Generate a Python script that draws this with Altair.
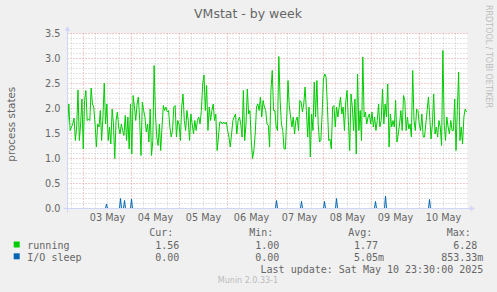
import altair as alt
import pandas as pd

# ---------------- data ----------------
running_a = [1.66, 2.09, 1.56, 1.63, 1.69, 1.81, 1.36, 1.63, 2.37, 1.36, 1.69, 2.19, 1.19, 2.16, 2.36, 1.76,
             1.79, 1.76, 2.41, 2.09, 2.03, 1.69, 1.23, 1.69, 1.63, 1.96, 1.36, 1.83, 2.51, 1.69, 2.09, 1.36,
             1.63, 1.29, 1.99, 1.69, 1.00, 1.76, 1.93, 1.63, 1.49, 1.69, 1.56, 1.46, 1.86, 1.36, 1.83, 1.19,
             2.09, 1.09, 2.26, 2.03, 1.76, 2.09, 2.23, 1.76, 1.06, 2.13, 1.96, 1.83, 1.53, 1.69, 1.33, 1.99,
             1.06, 1.36, 2.86, 1.89, 1.43, 1.26, 1.69, 1.16, 1.63, 2.06, 1.96, 2.03, 1.93]
running_b = [1.96, 1.63, 1.43, 1.56, 2.03, 2.06, 1.43, 1.76, 1.69, 1.36, 2.03, 2.29, 1.76, 1.56, 1.96, 1.76,
             1.36, 1.89, 1.69, 1.49, 1.76, 1.56, 1.76, 1.83, 1.69, 1.96, 2.49, 2.67, 1.96, 2.46, 1.56, 2.03,
             1.76, 1.96, 2.09, 1.76, 1.89, 1.16, 1.43, 1.73, 1.73, 1.69, 1.73, 1.69, 1.73, 1.56, 1.43, 1.23,
             1.49, 1.76, 1.83, 1.89, 1.49, 1.76, 1.83, 1.69, 1.43, 2.36, 1.36, 1.69, 2.39, 1.89, 1.96, 1.36,
             1.00, 1.16, 1.49, 2.03, 2.09, 1.96, 2.23, 1.83, 2.16, 2.03, 1.96, 1.69]
running_c = [1.66, 1.23, 2.36, 2.76, 1.96, 1.96, 1.63, 1.56, 3.04, 2.16, 1.69, 1.56, 1.19, 1.19, 1.79, 2.56,
             2.03, 1.83, 1.63, 1.83, 1.49, 1.76, 1.83, 1.56, 2.16, 2.13, 1.93, 2.09, 2.43, 1.96, 1.43, 2.03,
             1.03, 1.89, 1.56, 2.53, 1.83, 2.56, 1.69, 1.33, 1.36, 1.89, 2.59, 2.69, 2.63, 2.06, 1.36, 1.39,
             1.19, 2.03, 2.06, 1.63, 2.03, 1.83, 2.03, 2.23, 1.89, 2.03, 1.56, 2.13, 2.36, 1.76, 1.16, 2.29,
             2.03, 1.56, 2.19, 1.09, 2.69, 1.56, 1.96, 1.36, 3.03, 1.83, 1.93, 1.69]
running_d = [1.83, 1.89, 1.69, 1.93, 1.63, 1.83, 1.56, 1.76, 2.09, 1.63, 1.76, 2.39, 1.69, 2.09, 1.83, 2.49,
             1.23, 1.89, 1.63, 1.76, 1.63, 2.16, 1.33, 1.49, 1.69, 1.96, 1.56, 2.26, 2.16, 1.56, 1.83, 1.59,
             1.69, 1.43, 2.76, 1.76, 1.56, 1.99, 1.96, 1.69, 1.56, 1.89, 1.43, 1.43, 1.69, 1.96, 2.23, 1.83,
             1.39, 1.69, 2.29, 1.49, 1.63, 1.43, 1.76, 1.63, 1.26, 3.16, 1.69, 1.36, 1.83, 1.63, 1.49, 1.76,
             1.56, 1.56, 2.19, 1.16, 1.96, 2.73, 1.36, 1.63, 1.29, 1.83, 1.99, 1.93]
running = running_a + running_b + running_c + running_d

# I/O sleep: spikes (hours since 2025-05-02 00:00) and their heights
io_hours = [35.5, 42.5, 44.5, 48.0, 120.5, 133.0, 144.5, 150.5, 170.0, 175.0, 197.0]
io_peaks = [0.09, 0.20, 0.16, 0.19, 0.16, 0.14, 0.14, 0.20, 0.14, 0.25, 0.18]

start_hour = 16.0      # 2025-05-02 16:00
end_hour = 215.5       # 2025-05-10 23:30
axis_end = 216.0

day_labels = ["03 May", "04 May", "05 May", "06 May", "07 May", "08 May", "09 May", "10 May"]
day_label_hours = [36, 60, 84, 108, 132, 156, 180, 204]
y_ticks = [0.0, 0.5, 1.0, 1.5, 2.0, 2.5, 3.0, 3.5]

legend_names = ["running", "I/O sleep"]
legend_colors = ["#00cc00", "#0066b3"]
headers = ["Cur:", "Min:", "Avg:", "Max:"]
col_values = [["1.56", "0.00"], ["1.00", "0.00"], ["1.77", "5.05"], ["6.28", "853.33"]]
col_suffix = [["", ""], ["", ""], ["", "m"], ["", "m"]]
title_text = "VMstat - by week"
y_title = "process states"
last_update = "Last update: Sat May 10 23:30:00 2025"
footer = "Munin 2.0.33-1"
watermark = "RRDTOOL / TOBI OETIKER"

# ---------------- tables ----------------
n = len(running)
green = pd.DataFrame({
    "h": [start_hour + i * (end_hour - start_hour) / (n - 1) for i in range(n)],
    "v": running,
})

bh, bv = [start_hour], [0.0]
for h, p in zip(io_hours, io_peaks):
    bh += [h - 0.5, h, h + 0.5]
    bv += [0.0, p, 0.0]
bh.append(end_hour)
bv.append(0.0)
blue = pd.DataFrame({"h": bh, "v": bv})

minor_y = pd.DataFrame({"v": [round(i * 0.1, 1) for i in range(1, 35) if i % 5]})
major_y = pd.DataFrame({"v": [round(i * 0.5, 1) for i in range(1, 8)]})
minor_x = pd.DataFrame({"h": [h for h in range(18, 217, 6) if h % 24]})
major_x = pd.DataFrame({"h": list(range(24, 216, 24))})

XS = alt.Scale(domain=[start_hour, axis_end], nice=False, zero=False)
YS = alt.Scale(domain=[0, 3.5], nice=False, zero=False)

FONT = "DejaVu Sans"
MONO = "DejaVu Sans Mono"
TXT = "#666666"
AXC = "#CFD6F8"

label_expr = "[" + ",".join("'%s'" % s for s in day_labels) + "][(datum.value - 36) / 24]"

XAX = alt.Axis(
    values=day_label_hours, labelExpr=label_expr, grid=False, ticks=False, domain=False,
    labelFont=FONT, labelFontSize=9.7, labelColor=TXT, labelPadding=4, title=None,
    labelOverlap=False, labelFlush=False, translate=0)
YAX = alt.Axis(
    values=y_ticks, format=".1f", grid=False, ticks=False, domain=False,
    labelFont=FONT, labelFontSize=9.7, labelColor=TXT, labelPadding=7,
    labelOverlap=False, labelFlush=False, translate=0,
    title=y_title, titleX=-55.8, titleY=90.7, titleAngle=270, titleAlign="center",
    titleBaseline="middle", titleFont=FONT, titleFontSize=10.4, titleFontWeight="normal",
    titleColor=TXT)


def X(field):
    return alt.X(field, scale=XS, axis=XAX)


def Y(field):
    return alt.Y(field, scale=YS, axis=YAX)


grid_minor_y = alt.Chart(minor_y).mark_rule(color="#C8C8C8", strokeWidth=1, strokeDash=[1, 2]).encode(
    y=Y("v:Q"))
grid_minor_x = alt.Chart(minor_x).mark_rule(color="#C8C8C8", strokeWidth=1, strokeDash=[1, 2]).encode(
    x=X("h:Q"))
grid_major_y = alt.Chart(major_y).mark_rule(color="#E69A9A", strokeWidth=1, strokeDash=[1, 2]).encode(
    y=Y("v:Q"))
grid_major_x = alt.Chart(major_x).mark_rule(color="#E69A9A", strokeWidth=1, strokeDash=[1, 2]).encode(
    x=X("h:Q"))

green_line = alt.Chart(green).mark_line(color="#00cc00", strokeWidth=1).encode(x=X("h:Q"), y=Y("v:Q"))
blue_line = alt.Chart(blue).mark_line(color="#0066b3", strokeWidth=1).encode(x=X("h:Q"), y=Y("v:Q"))

axis_pts = pd.DataFrame({
    "x0": [start_hour - 2], "x1": [axis_end + 2], "xs": [start_hour], "xe": [axis_end],
    "y0": [-0.08], "y1": [3.56], "yz": [0.0], "yt": [3.5],
})
x_axis_line = alt.Chart(axis_pts).mark_rule(color=AXC, strokeWidth=1).encode(
    x=X("x0:Q"), x2="x1:Q", y=Y("yz:Q"))
y_axis_line = alt.Chart(axis_pts).mark_rule(color=AXC, strokeWidth=1).encode(
    x=X("xs:Q"), y=Y("y0:Q"), y2="y1:Q")
x_arrow = alt.Chart(axis_pts).mark_point(shape="triangle-right", filled=True, size=32, color=AXC,
                                         opacity=1, xOffset=5).encode(x=X("xe:Q"), y=Y("yz:Q"))
y_arrow = alt.Chart(axis_pts).mark_point(shape="triangle-up", filled=True, size=32, color=AXC,
                                         opacity=1, yOffset=-5).encode(x=X("xs:Q"), y=Y("yt:Q"))

one = pd.DataFrame({"k": [0]})


def label(text, x, y, **kw):
    return alt.Chart(pd.DataFrame({"t": [text]})).mark_text(**kw).encode(
        x=alt.value(x), y=alt.value(y), text="t:N")


texts = [
    label(title_text, 180.5, -19.5, font=FONT, fontSize=12.5, color=TXT, align="center", baseline="middle"),
    label(watermark, 420.8, 23, font=FONT, fontSize=8, color="#BDBDBD", align="center",
          baseline="middle", angle=90),
    label(last_update, 415.8, 236.5, font=MONO, fontSize=10, color=TXT, align="right", baseline="middle"),
    label(footer, 180.5, 247.5, font=FONT, fontSize=8, color="#BBBBBB", align="center", baseline="middle"),
]

row_y = [212.2, 224.2]
square_y = [211.0, 222.8]
header_x = [81.8, 181.8, 280.8, 379.2]
value_right = [111.8, 211.8, 310.5, 409.8]

for i, name in enumerate(legend_names):
    texts.append(alt.Chart(one).mark_square(size=36, filled=True, opacity=1, color=legend_colors[i]).encode(
        x=alt.value(-50.8), y=alt.value(square_y[i])))
    texts.append(label(name, -40.2, row_y[i], font=MONO, fontSize=10, color=TXT, align="left",
                       baseline="middle"))
for c, head in enumerate(headers):
    texts.append(label(head, header_x[c], 199.8, font=MONO, fontSize=10, color=TXT, align="left",
                       baseline="middle"))
    for r in range(2):
        texts.append(label(col_values[c][r], value_right[c], row_y[r], font=MONO, fontSize=10, color=TXT,
                           align="right", baseline="middle"))
        if col_suffix[c][r]:
            texts.append(label(col_suffix[c][r], value_right[c], row_y[r], font=MONO, fontSize=10,
                               color=TXT, align="left", baseline="middle"))

chart = alt.layer(
    grid_minor_y, grid_minor_x, grid_major_y, grid_major_x,
    green_line, blue_line,
    x_axis_line, y_axis_line, x_arrow, y_arrow,
    *texts,
).properties(
    width=400, height=175,
    autosize=alt.AutoSizeParams(type="none"),
    padding={"left": 67.5, "top": 33.5, "right": 29.5, "bottom": 83.5},
    background="#F0F0F0",
).configure_view(fill="#FFFFFF", strokeWidth=0)

chart.save("out.html", embed_options={"renderer": "svg", "actions": False})
